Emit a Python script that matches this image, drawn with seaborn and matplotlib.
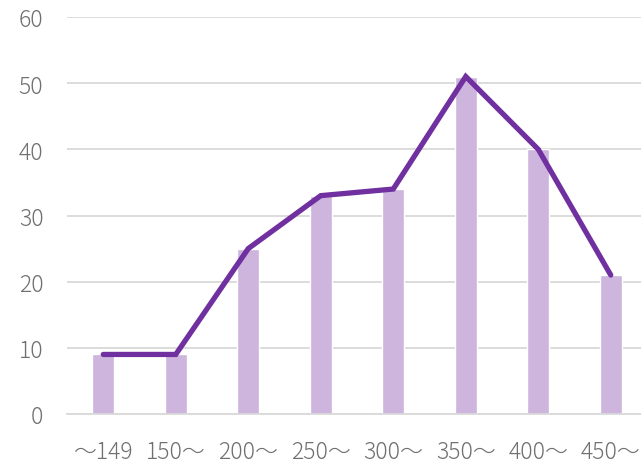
import matplotlib
matplotlib.use("Agg")
import matplotlib.pyplot as plt
import seaborn as sns
import pandas as pd

categories = ["～149", "150～", "200～", "250～", "300～", "350～", "400～", "450～"]
bar_values = [9, 9, 25, 33, 34, 51, 40, 21]
line_values = [9, 9, 25, 33, 34, 51, 40, 21]
y_ticks = [0, 10, 20, 30, 40, 50, 60]

sns.set_theme(style="white")
plt.rcParams['font.family'] = ['Noto Sans CJK JP', 'DejaVu Sans']

df = pd.DataFrame({"cat": categories, "bar": bar_values, "line": line_values})

fig = plt.figure(figsize=(6.41, 4.64), dpi=100)
ax = fig.add_axes([67/641, 49/464, 580/641, 397/464])

sns.barplot(data=df, x="cat", y="bar", color="#CDB5DE", width=0.3, ax=ax,
            saturation=1, zorder=2)
sns.lineplot(data=df, x="cat", y="line", color="#7030A0", linewidth=3.8, ax=ax,
             zorder=3, sort=False)
for l in ax.lines:
    l.set_solid_capstyle("round")
    l.set_solid_joinstyle("miter")

ax.set_xlim(-0.5, len(categories) - 0.5)
ax.set_ylim(0, 60)
ax.set_yticks(y_ticks)
ax.set_yticklabels([str(v) for v in y_ticks])
ax.yaxis.grid(True, color="#D9D9D9", linewidth=1.3, zorder=0)
ax.set_axisbelow(True)
ax.set_xlabel("")
ax.set_ylabel("")
for s in ["top", "right", "left"]:
    ax.spines[s].set_visible(False)
ax.spines["bottom"].set_color("#D9D9D9")
ax.spines["bottom"].set_linewidth(1.3)
ax.tick_params(axis="both", length=0, labelsize=16.5, labelcolor="#707070")
for t in ax.get_xticklabels() + ax.get_yticklabels():
    t.set_fontweight("light")
ax.tick_params(axis="y", pad=17)
ax.tick_params(axis="x", pad=18)

fig.savefig("out.png", dpi=100)
